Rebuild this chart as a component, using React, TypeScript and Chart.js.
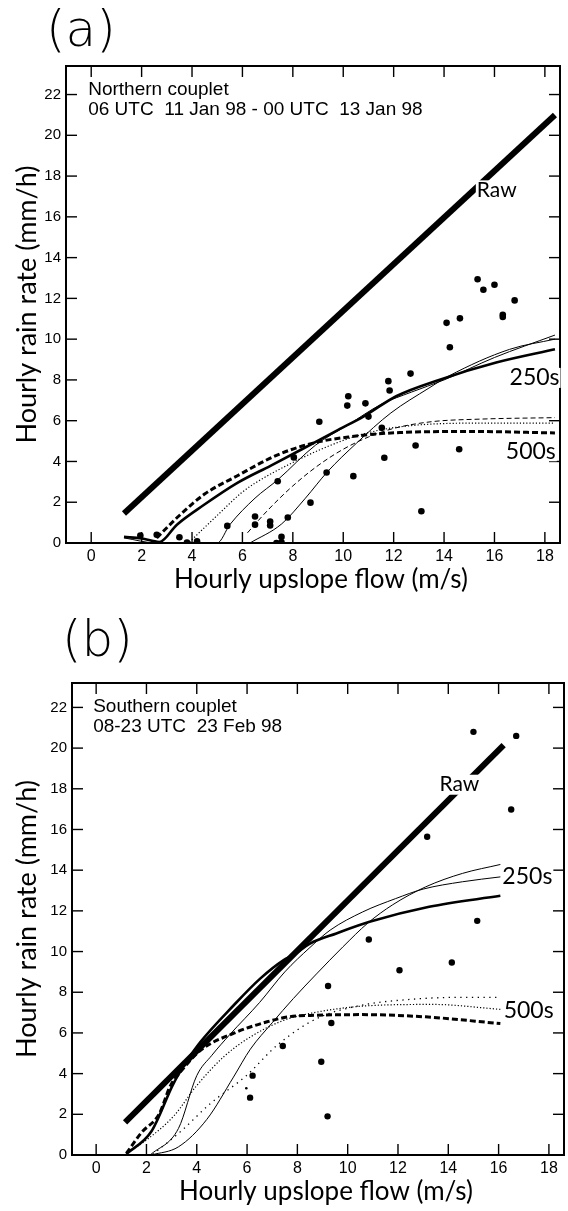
import React, { useEffect, useRef } from "react";
import { Chart, registerables } from "chart.js";

Chart.register(...registerables);

// ---------- shared tick values ----------
const xTickValues = [0, 2, 4, 6, 8, 10, 12, 14, 16, 18];
const yTickValues = [0, 2, 4, 6, 8, 10, 12, 14, 16, 18, 20, 22];

// ---------- Panel (a): Northern couplet ----------
const aObsX = [1.95, 2.6, 3.5, 3.8, 4.2, 5.4, 6.5, 6.5, 7.1, 7.1, 7.8, 7.4, 7.35, 7.55, 7.55, 8.04, 8.7, 9.05, 9.34, 10.16, 10.2, 10.4, 10.88, 11.0, 11.53, 11.63, 11.79, 11.84, 12.67, 12.87, 13.1, 14.1, 14.23, 14.63, 14.6, 15.33, 15.56, 16.0, 16.33, 16.33, 16.8];
const aObsY = [0.36, 0.4, 0.28, 0.02, 0.08, 0.84, 1.3, 0.9, 1.05, 0.86, 1.25, 3.03, 0.0, 0.3, 0.03, 4.2, 1.98, 5.95, 3.46, 6.74, 7.2, 3.28, 6.85, 6.2, 5.65, 4.18, 7.94, 7.48, 8.31, 4.78, 1.56, 10.8, 9.6, 11.02, 4.6, 12.94, 12.42, 12.67, 11.2, 11.09, 11.9];

const aRawX = [1.3, 18.4];
const aRawY = [1.45, 21.0];

const a250ThickX = [1.3, 2.0, 2.7, 3.4, 4.45, 5.8, 7.13, 8.36, 9.8, 10.8, 12.1, 13.8, 16.07, 18.4];
const a250ThickY = [0.3, 0.22, 0.05, 0.9, 1.85, 2.95, 3.8, 4.6, 5.55, 6.2, 7.2, 8.0, 8.85, 9.5];

const a250ThinAX = [1.3, 2.6, 5.0, 5.5, 6.5, 7.4, 8.9, 10.2, 11.5, 12.7, 14.0, 16.0, 18.4];
const a250ThinAY = [0.25, 0.0, 0.0, 0.9, 2.2, 3.1, 4.8, 5.8, 6.8, 7.4, 8.0, 9.1, 10.2];

const a250ThinBX = [6.3, 7.56, 8.5, 9.37, 10.52, 11.89, 13.4, 14.2, 16.6, 18.4];
const a250ThinBY = [0.0, 0.94, 2.2, 3.49, 4.89, 6.38, 7.6, 8.2, 9.5, 10.0];

const a500ThickX = [2.6, 3.5, 4.5, 5.8, 7.35, 8.8, 10.2, 12.25, 15.1, 18.4];
const a500ThickY = [0.25, 1.35, 2.4, 3.3, 4.3, 4.9, 5.2, 5.42, 5.47, 5.4];

const a500DotX = [3.9, 5.04, 5.95, 6.48, 7.92, 9.37, 10.8, 12.25, 15.1, 18.4];
const a500DotY = [0.05, 1.4, 2.45, 2.92, 3.9, 4.73, 5.35, 5.7, 5.88, 5.88];

const a500DashX = [6.2, 7.0, 8.0, 9.0, 10.0, 11.0, 12.0, 13.5, 15.5, 18.4];
const a500DashY = [0.5, 1.6, 2.8, 3.8, 4.6, 5.2, 5.62, 5.95, 6.08, 6.15];

// ---------- Panel (b): Southern couplet ----------
const bObsX = [6.12, 6.22, 7.42, 8.95, 9.2, 9.22, 9.35, 10.84, 12.06, 13.16, 14.14, 15.0, 15.15, 16.5, 16.7];
const bObsY = [2.82, 3.9, 5.36, 4.58, 1.9, 8.31, 6.49, 10.59, 9.08, 15.64, 9.46, 20.8, 11.51, 16.98, 20.6];
const bSmallX = [5.97];
const bSmallY = [3.28];

const bRawX = [1.15, 16.2];
const bRawY = [1.6, 20.15];

const b250ThickX = [1.2, 2.2, 3.07, 3.6, 4.15, 5.47, 6.52, 7.44, 7.84, 8.5, 9.55, 10.87, 13.24, 16.07];
const b250ThickY = [0.05, 1.17, 3.5, 4.6, 5.56, 7.36, 8.67, 9.57, 9.82, 10.39, 10.89, 11.46, 12.2, 12.74];

const b250ThinAX = [2.15, 3.27, 4.0, 4.6, 5.3, 6.5, 7.5, 8.5, 9.3, 10.6, 11.9, 13.0, 14.56, 16.07];
const b250ThinAY = [0.0, 1.3, 3.9, 4.9, 5.9, 7.5, 9.0, 10.2, 11.05, 11.95, 12.6, 13.07, 13.43, 13.67];

const b250ThinBX = [2.2, 3.27, 4.4, 5.46, 6.13, 7.0, 7.84, 8.76, 9.81, 10.8, 11.79, 13.1, 14.56, 16.07];
const b250ThinBY = [0.0, 0.4, 1.75, 3.83, 5.2, 6.5, 7.69, 8.9, 10.23, 11.4, 12.3, 13.18, 13.84, 14.28];

const b500ThickX = [1.2, 1.8, 2.5, 2.95, 3.5, 4.15, 5.5, 6.8, 7.7, 8.8, 10.5, 13.1, 16.07];
const b500ThickY = [0.08, 1.1, 2.0, 3.4, 4.3, 5.15, 6.0, 6.55, 6.8, 6.87, 6.9, 6.79, 6.46];

const b500DotAX = [1.2, 1.96, 3.11, 3.97, 5.11, 6.13, 7.44, 8.76, 10.87, 13.4, 16.07];
const b500DotAY = [0.1, 0.7, 1.95, 3.37, 4.87, 5.8, 6.61, 7.02, 7.34, 7.4, 7.16];

const b500DotBX = [2.25, 3.4, 4.54, 5.97, 7.2, 8.76, 10.5, 12.5, 14.5, 16.07];
const b500DotBY = [0.03, 1.2, 2.53, 3.9, 5.4, 6.7, 7.35, 7.65, 7.75, 7.75];

// ---------- helpers ----------
const zip = (xs: number[], ys: number[]) => xs.map((x, i) => ({ x, y: ys[i] }));

type LineKind = "raw" | "thick" | "thin" | "thickDash" | "thinDash" | "dot" | "dotSparse";

const lineStyle = (kind: LineKind) => {
  const base: any = {
    showLine: true,
    pointRadius: 0,
    pointHoverRadius: 0,
    borderColor: "#000",
    backgroundColor: "#000",
    fill: false,
    cubicInterpolationMode: "monotone",
    borderCapStyle: "butt",
    borderJoinStyle: "round",
  };
  switch (kind) {
    case "raw":
      return { ...base, borderWidth: 6, cubicInterpolationMode: "default", tension: 0 };
    case "thick":
      return { ...base, borderWidth: 2.6 };
    case "thin":
      return { ...base, borderWidth: 1 };
    case "thickDash":
      return { ...base, borderWidth: 3, borderDash: [6, 3] };
    case "thinDash":
      return { ...base, borderWidth: 1, borderDash: [5, 3] };
    case "dot":
      return { ...base, borderWidth: 1.2, borderDash: [1.2, 2] };
    case "dotSparse":
      return { ...base, borderWidth: 1.3, borderDash: [1.3, 4.5] };
  }
};

type TextItem = { text: string; x: number; y: number; font: string; align?: CanvasTextAlign };

type PanelSpec = {
  key: string;
  top: number;
  w: number;
  h: number;
  areaLeft: number;
  areaRight: number;
  areaTop: number;
  areaBottom: number;
  xMin: number;
  xMax: number;
  yMax: number;
  datasets: any[];
  header: string[];
  curveLabels: TextItem[];
  xTitleY: number;
};

const X_TITLE_FONT = '26px Lato, "Open Sans", sans-serif';
const Y_TITLE_FONT = '27px Lato, "Open Sans", sans-serif';
const TICK_FONT_FAMILY = '"Liberation Sans", Arial, sans-serif';
const HEADER_FONT = '19px "Liberation Sans", Arial, sans-serif';
const LABEL_FONT_BIG = '23px Lato, "Open Sans", sans-serif';
const LABEL_FONT_RAW = '21px Lato, "Open Sans", sans-serif';

const panelA: PanelSpec = {
  key: "a",
  top: 0,
  w: 568,
  h: 600,
  areaLeft: 66,
  areaRight: 560,
  areaTop: 66,
  areaBottom: 543,
  xMin: -1.0,
  xMax: 18.6,
  yMax: 23.4,
  header: ["Northern couplet", "06 UTC  11 Jan 98 - 00 UTC  13 Jan 98"],
  curveLabels: [
    { text: "Raw", x: 15.3, y: 17.3, font: LABEL_FONT_RAW },
    { text: "250s", x: 16.6, y: 8.1, font: LABEL_FONT_BIG },
    { text: "500s", x: 16.45, y: 4.5, font: LABEL_FONT_BIG },
  ],
  xTitleY: 580,
  datasets: [
    { label: "obs", data: zip(aObsX, aObsY), showLine: false, pointRadius: 3.3, pointBackgroundColor: "#000", pointBorderWidth: 0 },
    { label: "Raw", data: zip(aRawX, aRawY), ...lineStyle("raw") },
    { label: "250s thick", data: zip(a250ThickX, a250ThickY), ...lineStyle("thick") },
    { label: "250s thin A", data: zip(a250ThinAX, a250ThinAY), ...lineStyle("thin") },
    { label: "250s thin B", data: zip(a250ThinBX, a250ThinBY), ...lineStyle("thin") },
    { label: "500s thick", data: zip(a500ThickX, a500ThickY), ...lineStyle("thickDash") },
    { label: "500s dotted", data: zip(a500DotX, a500DotY), ...lineStyle("dot") },
    { label: "500s dashed", data: zip(a500DashX, a500DashY), ...lineStyle("thinDash") },
  ],
};

const panelB: PanelSpec = {
  key: "b",
  top: 600,
  w: 568,
  h: 611,
  areaLeft: 72,
  areaRight: 565,
  areaTop: 83,
  areaBottom: 555,
  xMin: -0.96,
  xMax: 18.6,
  yMax: 23.2,
  header: ["Southern couplet", "08-23 UTC  23 Feb 98"],
  curveLabels: [
    { text: "Raw", x: 13.65, y: 18.2, font: LABEL_FONT_RAW },
    { text: "250s", x: 16.15, y: 13.7, font: LABEL_FONT_BIG },
    { text: "500s", x: 16.2, y: 7.1, font: LABEL_FONT_BIG },
  ],
  xTitleY: 592,
  datasets: [
    { label: "obs", data: zip(bObsX, bObsY), showLine: false, pointRadius: 3.2, pointBackgroundColor: "#000", pointBorderWidth: 0 },
    { label: "obs small", data: zip(bSmallX, bSmallY), showLine: false, pointRadius: 1.3, pointBackgroundColor: "#000", pointBorderWidth: 0 },
    { label: "Raw", data: zip(bRawX, bRawY), ...lineStyle("raw") },
    { label: "250s thick", data: zip(b250ThickX, b250ThickY), ...lineStyle("thick") },
    { label: "250s thin A", data: zip(b250ThinAX, b250ThinAY), ...lineStyle("thin") },
    { label: "250s thin B", data: zip(b250ThinBX, b250ThinBY), ...lineStyle("thin") },
    { label: "500s thick", data: zip(b500ThickX, b500ThickY), ...lineStyle("thickDash") },
    { label: "500s dotted A", data: zip(b500DotAX, b500DotAY), ...lineStyle("dot") },
    { label: "500s dotted B", data: zip(b500DotBX, b500DotBY), ...lineStyle("dotSparse") },
  ],
};

function buildConfig(spec: PanelSpec): any {
  const framePlugin = {
    id: "frame_" + spec.key,
    afterDraw(chart: any) {
      const { ctx, chartArea: ca, scales } = chart;
      const xs = scales.x;
      const ys = scales.y;
      ctx.save();
      ctx.strokeStyle = "#000";
      ctx.fillStyle = "#000";
      ctx.lineWidth = 2;
      ctx.strokeRect(ca.left, ca.top, ca.right - ca.left, ca.bottom - ca.top);
      ctx.lineWidth = 1.4;
      const seg = (x1: number, y1: number, x2: number, y2: number) => {
        ctx.beginPath();
        ctx.moveTo(x1, y1);
        ctx.lineTo(x2, y2);
        ctx.stroke();
      };
      const tl = 11;
      xTickValues.forEach((v) => {
        const px = xs.getPixelForValue(v);
        seg(px, ca.bottom, px, ca.bottom - tl);
        seg(px, ca.top, px, ca.top + tl);
      });
      yTickValues.forEach((v) => {
        const py = ys.getPixelForValue(v);
        seg(ca.left, py, ca.left + tl, py);
        seg(ca.right, py, ca.right - tl, py);
      });

      // header text
      ctx.font = HEADER_FONT;
      ctx.textAlign = "left";
      ctx.textBaseline = "alphabetic";
      const hx = xs.getPixelForValue(0) - 3;
      ctx.fillText(spec.header[0], hx, ca.top + 29);
      ctx.fillText(spec.header[1], hx, ca.top + 49);

      // curve labels
      spec.curveLabels.forEach((l) => {
        ctx.font = l.font;
        ctx.textAlign = l.align || "left";
        ctx.textBaseline = "middle";
        const px = xs.getPixelForValue(l.x);
        const py = ys.getPixelForValue(l.y);
        const w = ctx.measureText(l.text).width;
        ctx.fillStyle = "#fff";
        ctx.fillRect(px - 1, py - 10, w + 2, 20);
        ctx.fillStyle = "#000";
        ctx.fillText(l.text, px, py);
      });

      // axis titles
      ctx.font = X_TITLE_FONT;
      ctx.textAlign = "center";
      ctx.textBaseline = "middle";
      ctx.fillText("Hourly upslope flow (m/s)", (ca.left + ca.right) / 2 + 8, spec.xTitleY);
      ctx.font = Y_TITLE_FONT;
      ctx.save();
      ctx.translate(27, (ca.top + ca.bottom) / 2);
      ctx.rotate(-Math.PI / 2);
      ctx.fillText("Hourly rain rate (mm/h)", 0, 0);
      ctx.restore();
      ctx.restore();
    },
  };

  return {
    type: "scatter",
    data: { datasets: spec.datasets },
    options: {
      animation: false,
      responsive: false,
      devicePixelRatio: 1,
      events: [],
      layout: {
        padding: { left: 0, top: spec.areaTop, right: spec.w - spec.areaRight, bottom: 0 },
      },
      plugins: {
        legend: { display: false },
        tooltip: { enabled: false },
        title: { display: false },
      },
      scales: {
        x: {
          type: "linear",
          position: "bottom",
          min: spec.xMin,
          max: spec.xMax,
          afterBuildTicks: (s: any) => {
            s.ticks = xTickValues.map((v) => ({ value: v }));
          },
          afterFit: (s: any) => {
            s.height = spec.h - spec.areaBottom;
          },
          grid: { display: false, drawTicks: false },
          border: { display: false },
          ticks: {
            color: "#000",
            font: { family: TICK_FONT_FAMILY, size: 16 },
            padding: 4,
            maxRotation: 0,
            autoSkip: false,
          },
        },
        y: {
          type: "linear",
          position: "left",
          min: 0,
          max: spec.yMax,
          afterBuildTicks: (s: any) => {
            s.ticks = yTickValues.map((v) => ({ value: v }));
          },
          afterFit: (s: any) => {
            s.width = spec.areaLeft;
          },
          grid: { display: false, drawTicks: false },
          border: { display: false },
          ticks: {
            color: "#000",
            font: { family: TICK_FONT_FAMILY, size: 15 },
            padding: 5,
            autoSkip: false,
          },
        },
      },
    },
    plugins: [framePlugin],
  };
}

function Panel({ spec }: { spec: PanelSpec }) {
  const ref = useRef<HTMLCanvasElement>(null);
  useEffect(() => {
    const chart = new Chart(ref.current as HTMLCanvasElement, buildConfig(spec));
    return () => chart.destroy();
  }, [spec]);
  return (
    <canvas
      ref={ref}
      width={spec.w}
      height={spec.h}
      style={{ position: "absolute", left: 0, top: spec.top, width: spec.w, height: spec.h, display: "block" }}
    />
  );
}

const panelLetterStyle: React.CSSProperties = {
  position: "absolute",
  fontFamily: '"DejaVu Sans", Lato, sans-serif',
  fontWeight: 200,
  fontSize: 50,
  lineHeight: "1",
  color: "#000",
  margin: 0,
};

export default function App() {
  return (
    <div style={{ position: "absolute", left: 0, top: 0, width: 568, height: 1211, background: "#fff", overflow: "hidden" }}>
      <div style={{ ...panelLetterStyle, left: 46, top: 4 }}>(a)</div>
      <div style={{ ...panelLetterStyle, left: 62, top: 614 }}>(b)</div>
      <Panel spec={panelA} />
      <Panel spec={panelB} />
    </div>
  );
}
